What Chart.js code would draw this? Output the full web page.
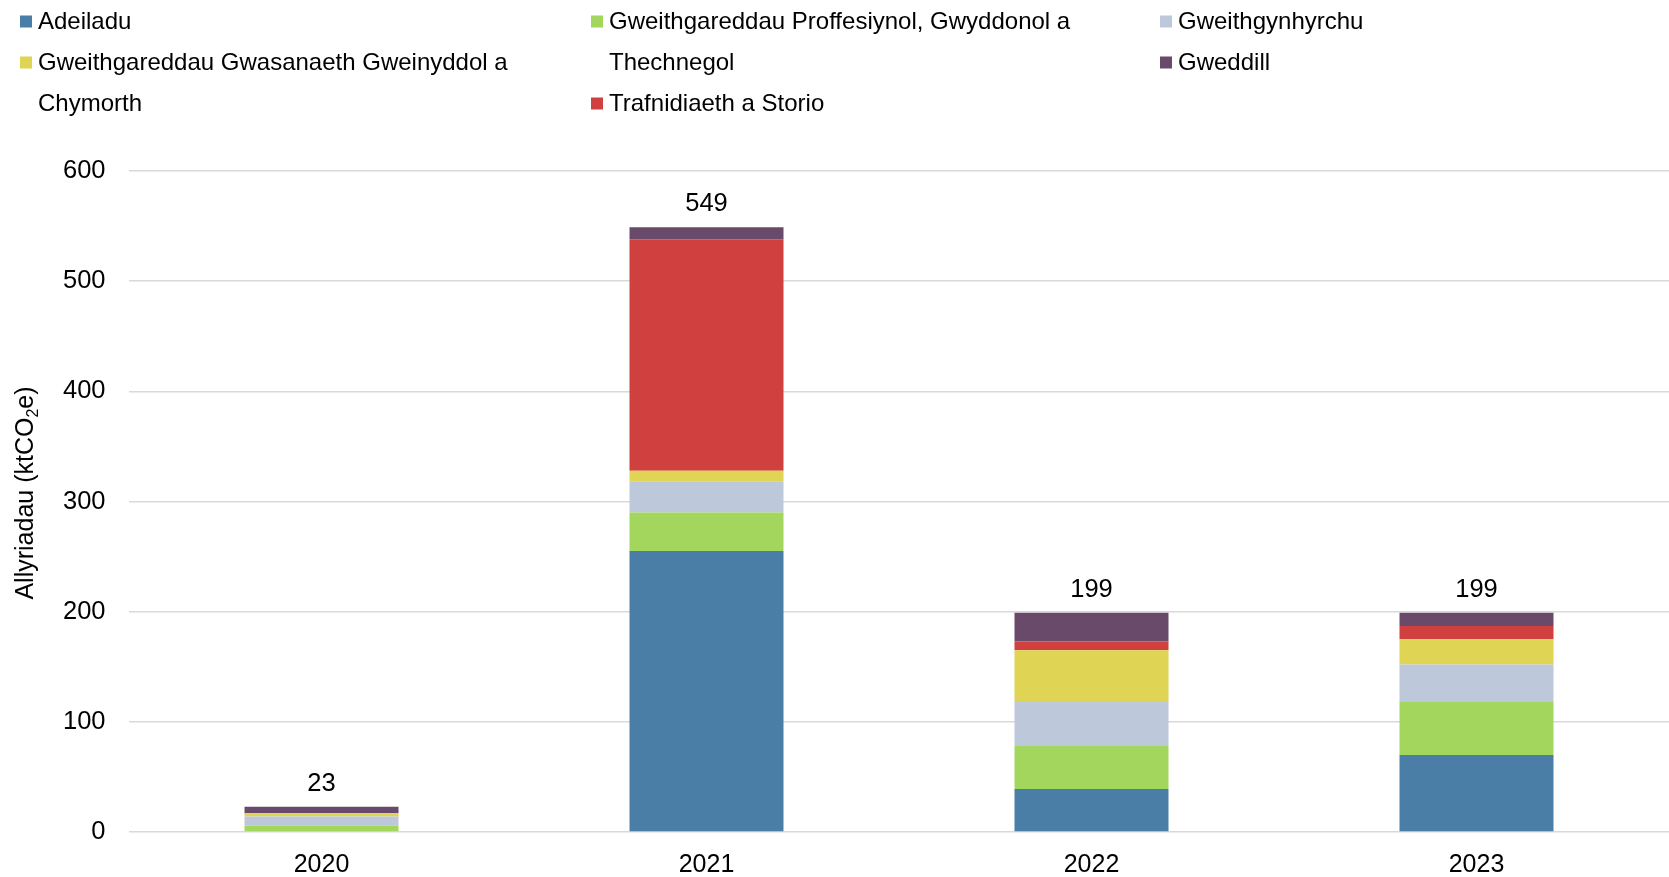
<!DOCTYPE html>
<html lang="cy">
<head>
<meta charset="utf-8">
<title>Allyriadau yn ôl sector</title>
<script src="https://cdn.jsdelivr.net/npm/chart.js@4"></script>
<style>
  html, body { margin: 0; padding: 0; background: #fff; }
  #wrap { width: 1669px; height: 877px; }
</style>
</head>
<body>
<div id="wrap"><canvas id="chart" width="1669" height="877"></canvas></div>
<script>
// Categories (years)
const years = ['2020', '2021', '2022', '2023'];

// Emissions by sector, ktCO2e
const adeiladu        = [0, 255, 39, 70];
const proffesiynol    = [6, 35, 39, 48];
const gweithgynhyrchu = [8, 28, 41, 34];
const gwasanaeth      = [3, 10, 46, 23];
const trafnidiaeth    = [0, 210, 8, 12];
const gweddill        = [6, 11, 26, 12];

// Y axis ticks
const yTicks = [0, 100, 200, 300, 400, 500, 600];

const FONT = '"Liberation Sans", Arial, sans-serif';

const datasets = [
  { label: 'Adeiladu', data: adeiladu, backgroundColor: '#4A7EA6' },
  { label: 'Gweithgareddau Proffesiynol, Gwyddonol a Thechnegol', data: proffesiynol, backgroundColor: '#A3D65C' },
  { label: 'Gweithgynhyrchu', data: gweithgynhyrchu, backgroundColor: '#BDC8DA' },
  { label: 'Gweithgareddau Gwasanaeth Gweinyddol a Chymorth', data: gwasanaeth, backgroundColor: '#E0D455' },
  { label: 'Trafnidiaeth a Storio', data: trafnidiaeth, backgroundColor: '#D0403E' },
  { label: 'Gweddill', data: gweddill, backgroundColor: '#6A4A6B' }
].map(d => Object.assign(d, { barPercentage: 0.4, categoryPercentage: 1.0, borderWidth: 0 }));

// Legend grid: column of each entry and the line it starts on
const legendPlace = [[0, 0], [1, 0], [2, 0], [0, 1], [1, 2], [2, 1]];
const legendColX = [20, 591, 1160];
const legendLineY = [28.5, 69.5, 110.5];
const legendWrap = 525;

function wrapText(ctx, text, maxW) {
  const words = text.split(' ');
  const lines = [];
  let cur = '';
  for (const w of words) {
    const t = cur ? cur + ' ' + w : w;
    if (cur && ctx.measureText(t).width > maxW) { lines.push(cur); cur = w; }
    else cur = t;
  }
  if (cur) lines.push(cur);
  return lines;
}

const legendPlugin = {
  id: 'gridLegend',
  afterDraw(chart) {
    const ctx = chart.ctx;
    ctx.save();
    ctx.font = '24px ' + FONT;
    ctx.textBaseline = 'alphabetic';
    ctx.textAlign = 'left';
    chart.data.datasets.forEach((ds, i) => {
      const [col, line] = legendPlace[i];
      const x = legendColX[col];
      const y = legendLineY[line];
      ctx.fillStyle = ds.backgroundColor;
      ctx.fillRect(x, y - 13, 12, 12);
      ctx.fillStyle = '#000';
      wrapText(ctx, ds.label, legendWrap).forEach((l, k) => {
        ctx.fillText(l, x + 18, y + k * 41);
      });
    });
    ctx.restore();
  }
};

const totalsPlugin = {
  id: 'totals',
  afterDatasetsDraw(chart) {
    const ctx = chart.ctx;
    const xs = chart.scales.x, ys = chart.scales.y;
    ctx.save();
    ctx.font = '25.5px ' + FONT;
    ctx.fillStyle = '#000';
    ctx.textAlign = 'center';
    ctx.textBaseline = 'middle';
    years.forEach((yr, i) => {
      const total = chart.data.datasets.reduce((s, d) => s + d.data[i], 0);
      ctx.fillText(String(total), xs.getPixelForValue(i), ys.getPixelForValue(total) - 23);
    });
    ctx.restore();
  }
};

const yTitlePlugin = {
  id: 'yTitle',
  afterDraw(chart) {
    const ctx = chart.ctx;
    const main = 'Allyriadau (ktCO', sub = '2', tail = 'e)';
    const big = '25px ' + FONT, small = '16px ' + FONT;
    ctx.save();
    ctx.fillStyle = '#000';
    ctx.textBaseline = 'alphabetic';
    ctx.textAlign = 'left';
    ctx.font = big;
    const w1 = ctx.measureText(main).width, w3 = ctx.measureText(tail).width;
    ctx.font = small;
    const w2 = ctx.measureText(sub).width;
    const total = w1 + w2 + w3;
    ctx.translate(33, 493);
    ctx.rotate(-Math.PI / 2);
    let x = -total / 2;
    ctx.font = big; ctx.fillText(main, x, 0); x += w1;
    ctx.font = small; ctx.fillText(sub, x, 5); x += w2;
    ctx.font = big; ctx.fillText(tail, x, 0);
    ctx.restore();
  }
};

new Chart(document.getElementById('chart'), {
  type: 'bar',
  data: { labels: years, datasets },
  options: {
    responsive: false,
    animation: false,
    devicePixelRatio: 1,
    layout: { padding: { top: 171, right: 0, bottom: 0, left: 0 } },
    plugins: {
      legend: { display: false },
      tooltip: { enabled: false },
      title: { display: false }
    },
    scales: {
      x: {
        stacked: true,
        grid: { display: false, drawTicks: false },
        border: { display: false },
        ticks: { color: '#000', font: { family: FONT, size: 25 }, padding: 18, maxRotation: 0 },
        afterFit(scale) { scale.height = 45; }
      },
      y: {
        stacked: true,
        min: 0,
        max: 600,
        afterBuildTicks(scale) { scale.ticks = yTicks.map(v => ({ value: v })); },
        grid: { color: '#D9D9D9', lineWidth: 1.5, drawTicks: false },
        border: { display: false },
        ticks: { color: '#000', font: { family: FONT, size: 25.5 }, padding: 23.5 },
        afterFit(scale) { scale.width = 129; }
      }
    }
  },
  plugins: [legendPlugin, totalsPlugin, yTitlePlugin]
});
</script>
</body>
</html>
